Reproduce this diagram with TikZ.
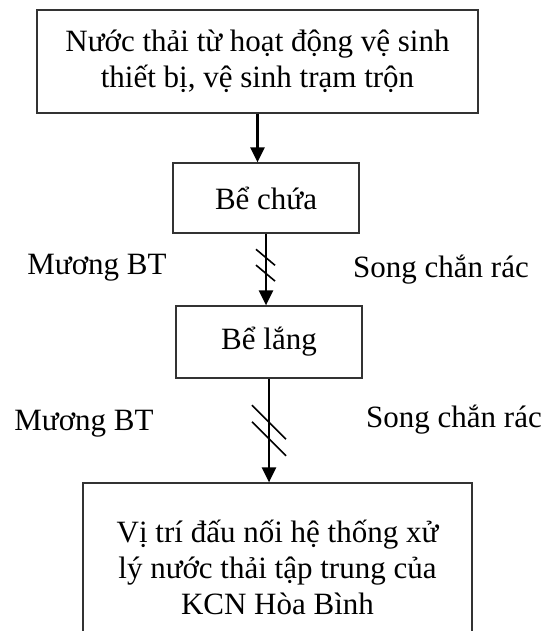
\documentclass[tikz,border=0pt]{standalone}
\usepackage{fontspec}
\setmainfont{Liberation Serif}
\usetikzlibrary{arrows.meta,calc}

\tikzset{
  box/.style={draw=black!80, line width=1.2pt, align=center, inner sep=0pt,
              font=\fontsize{31}{36}\selectfont},
  flow/.style={line width=2.6pt, -{Triangle[width=14pt,length=15pt]}},
  hatch/.style={line width=1.6pt},
  lbl/.style={font=\fontsize{31}{36}\selectfont}
}

\begin{document}
\begin{tikzpicture}[x=1pt,y=-1pt]

\useasboundingbox (0,0) rectangle (546,631);

% ---- Boxes ----
\node[box, minimum width=441pt, minimum height=103pt] (src) at (257.5,61.5)
  {Nước thải từ hoạt động vệ sinh\\thiết bị, vệ sinh trạm trộn};
\node[box, minimum width=186pt, minimum height=70pt] (tank) at (266,198) {Bể chứa};
\node[box, minimum width=186pt, minimum height=72pt] (settle) at (269,342) {Bể lắng};
\node[box, minimum width=389pt, minimum height=168pt] (outlet) at (277.5,567)
  {Vị trí đấu nối hệ thống xử\\lý nước thải tập trung của\\KCN Hòa Bình};

% ---- Flow arrows ----
\draw[flow] (src.south) -- (src.south |- tank.north);
\draw[flow] (tank.south) -- (tank.south |- settle.north);
\draw[flow] (settle.south) -- (settle.south |- outlet.north);

% ---- Screens (hatch marks) ----
\coordinate (s1a) at ($(tank.south)!0.33!(tank.south |- settle.north)$);
\coordinate (s1b) at ($(tank.south)!0.55!(tank.south |- settle.north)$);
\draw[hatch] (s1a) ++(-10,-8) -- ++(19,16);
\draw[hatch] (s1b) ++(-10,-8) -- ++(19,16);

\coordinate (s2a) at ($(settle.south)!0.42!(settle.south |- outlet.north)$);
\coordinate (s2b) at ($(settle.south)!0.58!(settle.south |- outlet.north)$);
\draw[hatch] (s2a) ++(-17,-17) -- ++(34,34);
\draw[hatch] (s2b) ++(-17,-17) -- ++(34,34);

% ---- Labels ----
\node[lbl] (ditch1)  at (97,268)  {Mương BT};
\node[lbl] (screen1) at (441,270) {Song chắn rác};
\node[lbl] (ditch2)  at (84,424)  {Mương BT};
\node[lbl] (screen2) at (454,420) {Song chắn rác};

\end{tikzpicture}
\end{document}
